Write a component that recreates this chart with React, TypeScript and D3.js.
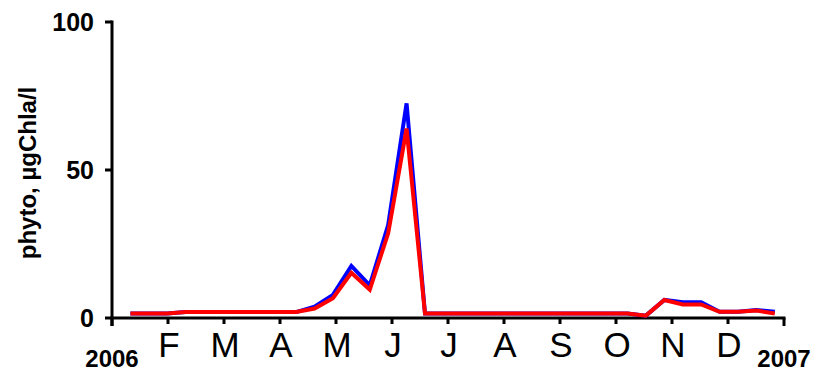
import React from "react";
import * as d3 from "d3";

const days = [10, 20, 30, 40, 50, 60, 70, 80, 90, 100, 110, 120, 130, 140, 150, 160, 170, 180, 190, 200, 210, 220, 230, 240, 250, 260, 270, 280, 290, 300, 310, 320, 330, 340, 350, 360];
const seriesBlue = [1.5, 1.5, 1.5, 2.0, 2.0, 2.0, 2.0, 2.0, 2.0, 2.0, 3.8, 7.8, 17.6, 11.0, 31.4, 72.5, 1.5, 1.5, 1.5, 1.5, 1.5, 1.5, 1.5, 1.5, 1.5, 1.5, 1.5, 1.5, 0.8, 6.1, 5.3, 5.3, 2.1, 2.1, 2.7, 2.1];
const seriesRed = [1.5, 1.5, 1.5, 2.0, 2.0, 2.0, 2.0, 2.0, 2.0, 2.0, 3.2, 6.7, 15.3, 9.6, 28.6, 64.0, 1.5, 1.5, 1.5, 1.5, 1.5, 1.5, 1.5, 1.5, 1.5, 1.5, 1.5, 1.5, 0.8, 6.1, 4.6, 4.6, 2.1, 2.1, 2.5, 1.5];
const monthLabels = ["F", "M", "A", "M", "J", "J", "A", "S", "O", "N", "D"];
const yTicks = [0, 50, 100];
const yearLabels = ["2006", "2007"];
const yTitle = "phyto, µgChla/l";

const W = 822;
const H = 373;
const font = "'Liberation Sans', Arial, sans-serif";

export default function App() {
  const x = d3.scaleLinear().domain([0, 365]).range([112, 784]);
  const y = d3.scaleLinear().domain([0, 100]).range([318, 22]);
  const monthTicks = d3.range(13).map((i) => (i * 365) / 12);
  const line = d3
    .line<number>()
    .x((_, i) => x(days[i]))
    .y((d) => y(d));

  return (
    <svg
      width={W}
      height={H}
      style={{ position: "absolute", left: 0, top: 0, background: "#fff" }}
      fontFamily={font}
    >
      <rect x={0} y={0} width={W} height={H} fill="#fff" />
      {/* y axis */}
      <line x1={x(0)} x2={x(0)} y1={y(100) - 1.5} y2={y(0) + 8} stroke="#000" strokeWidth={3} />
      {yTicks.map((t) => (
        <g key={t}>
          <line x1={x(0) - 7} x2={x(0)} y1={y(t)} y2={y(t)} stroke="#000" strokeWidth={3} />
          <text x={94} y={y(t)} dy="0.36em" textAnchor="end" fontWeight="bold" fontSize={25}>
            {t}
          </text>
        </g>
      ))}
      {/* x axis */}
      <line x1={x(0) - 1.5} x2={x(365) + 1.5} y1={y(0)} y2={y(0)} stroke="#000" strokeWidth={3} />
      {monthTicks.map((t, i) => (
        <line
          key={i}
          x1={x(t)}
          x2={x(t)}
          y1={y(0)}
          y2={y(0) + (i === 0 || i === 12 ? 8 : 6)}
          stroke="#000"
          strokeWidth={3}
        />
      ))}
      {monthLabels.map((m, i) => (
        <text key={i} x={x(monthTicks[i + 1]) + 1} y={357} textAnchor="middle" fontSize={35}>
          {m}
        </text>
      ))}
      <text x={x(0)} y={367} textAnchor="middle" fontWeight="bold" fontSize={24}>
        {yearLabels[0]}
      </text>
      <text x={x(365)} y={367} textAnchor="middle" fontWeight="bold" fontSize={24}>
        {yearLabels[1]}
      </text>
      <text
        transform={`translate(36,173) rotate(-90)`}
        textAnchor="middle"
        fontWeight="bold"
        fontSize={24}
      >
        {yTitle}
      </text>
      <path d={line(seriesBlue) || ""} fill="none" stroke="#0000ff" strokeWidth={4} strokeLinejoin="miter" />
      <path d={line(seriesRed) || ""} fill="none" stroke="#ff0000" strokeWidth={4} strokeLinejoin="miter" />
    </svg>
  );
}
